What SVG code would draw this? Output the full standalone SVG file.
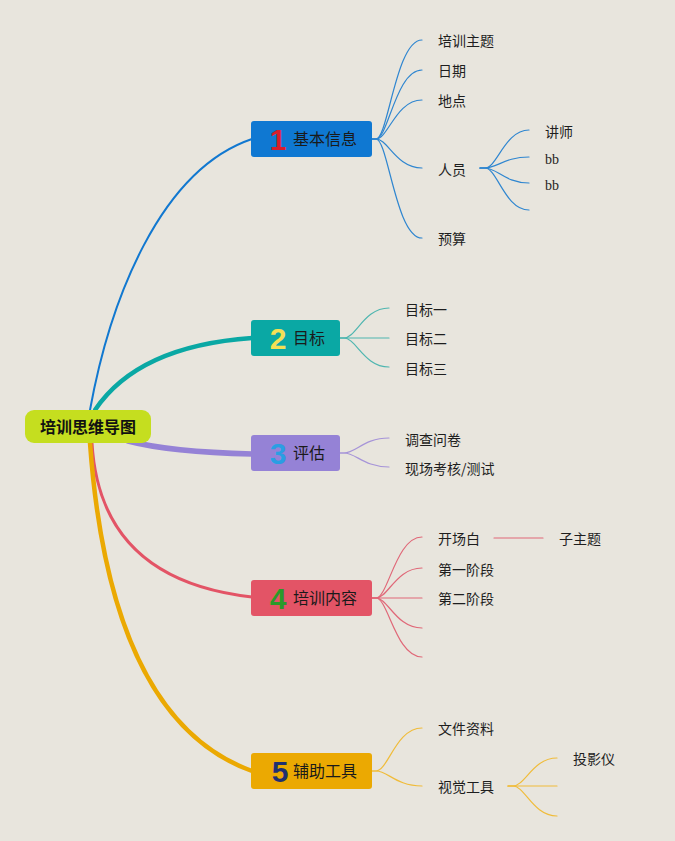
<svg xmlns="http://www.w3.org/2000/svg" width="675" height="841" viewBox="0 0 675 841">
<style>
.t{font-family:"Noto Sans CJK SC","Noto Sans",sans-serif;font-size:14px;fill:#1e1e1e}
.bt{font-family:"Noto Sans CJK SC","Noto Sans",sans-serif;font-size:16px;fill:#1a1a1a}
.num{font-family:"Liberation Sans",Arial,sans-serif;font-size:30px;font-weight:bold;text-anchor:middle}
.lat{font-family:"Liberation Serif",serif;font-size:14px;fill:#1e1e1e}
.c{fill:none;stroke-linecap:round}
.b1{stroke:#2f86d0;stroke-width:1.2}
.b2{stroke:#4fb6b0;stroke-width:1.2}
.b3{stroke:#a694d8;stroke-width:1.2}
.b4{stroke:#e06878;stroke-width:1.2}
.b5{stroke:#f0bc3a;stroke-width:1.2}
</style>
<rect width="675" height="841" fill="#e8e5dd"/>
<g id="connectors">
  <path class="c" d="M90,410 C110,300 160,170 252,139" stroke="#1178d0" stroke-width="2"/>
  <path class="c" d="M95,410 Q138,346 252,338" stroke="#0aa8a4" stroke-width="4.5"/>
  <path class="c" d="M128,441 Q170,452 252,454" stroke="#9582d6" stroke-width="5.5"/>
  <path class="c" d="M92,443 Q100,580 252,597" stroke="#e35466" stroke-width="3"/>
  <path class="c" d="M90,443 Q110,720 252,771" stroke="#eba902" stroke-width="4.5"/>
  <!-- branch 1 -->
  <g class="c b1">
    <path d="M372,139 H376 C388,139 396,40 422,40"/>
    <path d="M372,139 H376 C388,139 396,70 422,70"/>
    <path d="M372,139 H376 C388,139 396,100 422,100"/>
    <path d="M372,139 H376 C388,139 396,168 422,168"/>
    <path d="M372,139 H376 C388,139 396,238 422,238"/>
    <path d="M480,168 H485 C497,168 505,130 529,130"/>
    <path d="M480,168 H485 C497,168 505,157 529,157"/>
    <path d="M480,168 H485 C497,168 505,183 529,183"/>
    <path d="M480,168 H485 C497,168 505,210 529,210"/>
  </g>
  <g class="c b2">
    <path d="M340,338 H344 C356,338 364,308 389,308"/>
    <path d="M340,338 H389"/>
    <path d="M340,338 H344 C356,338 364,367 389,367"/>
  </g>
  <g class="c b3">
    <path d="M340,453 H344 C356,453 364,438 389,438"/>
    <path d="M340,453 H344 C356,453 364,467 389,467"/>
  </g>
  <g class="c b4">
    <path d="M372,598 H376 C388,598 396,537 422,537"/>
    <path d="M372,598 H376 C388,598 396,568 422,568"/>
    <path d="M372,598 H422"/>
    <path d="M372,598 H376 C388,598 396,628 422,628"/>
    <path d="M372,598 H376 C388,598 396,657 422,657"/>
    <path d="M494,538 H543"/>
  </g>
  <g class="c b5">
    <path d="M372,771 H376 C388,771 396,728 422,728"/>
    <path d="M372,771 H376 C388,771 396,786 422,786"/>
    <path d="M508,786 H513 C525,786 533,758 557,758"/>
    <path d="M508,786 H557"/>
    <path d="M508,786 H513 C525,786 533,816 557,816"/>
  </g>
</g>
<g id="root">
  <rect x="25" y="410" width="126" height="33" rx="9" fill="#c5de1f"/>
  <text x="88" y="433" text-anchor="middle" font-family="'Noto Sans CJK SC',sans-serif" font-size="16" font-weight="bold" fill="#111">培训思维导图</text>
</g>
<g id="n1">
  <rect x="251" y="121" width="121" height="36" rx="3" fill="#0f78d2"/>
  <text class="num" x="278" y="150" fill="#d81e2c">1</text>
  <text class="bt" x="293" y="145">基本信息</text>
</g>
<g id="n2">
  <rect x="251" y="320" width="89" height="36" rx="3" fill="#0aa8a4"/>
  <text class="num" x="278" y="349" fill="#f3e055">2</text>
  <text class="bt" x="293" y="344">目标</text>
</g>
<g id="n3">
  <rect x="251" y="435" width="89" height="36" rx="3" fill="#9582d6"/>
  <text class="num" x="278" y="464" fill="#2a9ee3">3</text>
  <text class="bt" x="293" y="459">评估</text>
</g>
<g id="n4">
  <rect x="251" y="580" width="121" height="36" rx="3" fill="#e35466"/>
  <text class="num" x="278" y="609" fill="#2a9a2a">4</text>
  <text class="bt" x="293" y="604">培训内容</text>
</g>
<g id="n5">
  <rect x="251" y="753" width="121" height="36" rx="3" fill="#eba902"/>
  <text class="num" x="280" y="782" fill="#1f3070">5</text>
  <text class="bt" x="293" y="777">辅助工具</text>
</g>
<g id="leaves">
  <g id="l-topic"><text class="t" x="438" y="46">培训主题</text></g>
  <g id="l-date"><text class="t" x="438" y="76">日期</text></g>
  <g id="l-place"><text class="t" x="438" y="106">地点</text></g>
  <g id="l-people"><text class="t" x="438" y="175">人员</text></g>
  <g id="l-budget"><text class="t" x="438" y="244">预算</text></g>
  <g id="l-lecturer"><text class="t" x="545" y="137">讲师</text></g>
  <g id="l-bb1"><text class="lat" x="545" y="164">bb</text></g>
  <g id="l-bb2"><text class="lat" x="545" y="190">bb</text></g>
  <g id="l-g1"><text class="t" x="405" y="315">目标一</text></g>
  <g id="l-g2"><text class="t" x="405" y="344">目标二</text></g>
  <g id="l-g3"><text class="t" x="405" y="374">目标三</text></g>
  <g id="l-e1"><text class="t" x="405" y="445">调查问卷</text></g>
  <g id="l-e2"><text class="t" x="405" y="474">现场考核/测试</text></g>
  <g id="l-c1"><text class="t" x="438" y="544">开场白</text></g>
  <g id="l-c1s"><text class="t" x="559" y="544">子主题</text></g>
  <g id="l-c2"><text class="t" x="438" y="575">第一阶段</text></g>
  <g id="l-c3"><text class="t" x="438" y="604">第二阶段</text></g>
  <g id="l-t1"><text class="t" x="438" y="734">文件资料</text></g>
  <g id="l-t2"><text class="t" x="438" y="792">视觉工具</text></g>
  <g id="l-t2a"><text class="t" x="573" y="764">投影仪</text></g>
</g>
</svg>
